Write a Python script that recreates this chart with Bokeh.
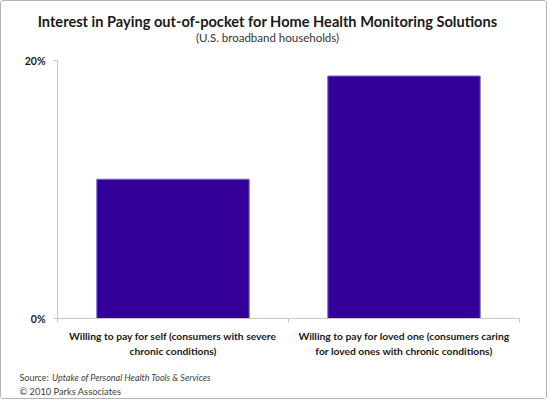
from bokeh.plotting import figure
from bokeh.models import FixedTicker, Label, PrintfTickFormatter, Range1d
from bokeh.embed import file_html
from bokeh.resources import INLINE

# Data
categories = [
    "Willing to pay for self (consumers with severe\nchronic conditions)",
    "Willing to pay for loved one (consumers caring\nfor loved ones with chronic conditions)",
]
share_pct = [10.8, 18.8]
y_ticks = [0, 20]

BAR = "#330099"
FONT = "Lato"
TEXT = "#1a1a1a"
NOTE = "#404040"
AXIS = "#c8c8c8"

# canvas size and where the plotting area sits inside it (pixels)
W, H = 547, 399
LEFT, RIGHT, TOP, BOTTOM = 56, 518, 59, 317
Y_MAX = 20
N = len(categories)

px_x = (RIGHT - LEFT) / N        # pixels per category
px_y = (BOTTOM - TOP) / Y_MAX    # pixels per percent

# the frame covers the whole canvas so the notes around the chart are not clipped
p = figure(
    width=W,
    height=H,
    x_range=Range1d(-LEFT / px_x, (W - LEFT) / px_x),
    y_range=Range1d(-(H - BOTTOM) / px_y, Y_MAX + TOP / px_y),
    output_backend="svg",
    toolbar_location=None,
    min_border=0,
)
p.styles = {"border": "1px solid #b4b4b4", "border-radius": "3px"}
p.outline_line_color = None
p.xgrid.grid_line_color = None
p.ygrid.grid_line_color = None

x_pos = [i + 0.5 for i in range(N)]
edges = [i for i in range(N + 1)]

p.vbar(x=x_pos, top=share_pct, width=0.66, fill_color=BAR,
       line_color="#7f6fd0", line_width=1)

# y axis: only 0% and 20%
p.yaxis.fixed_location = 0
p.yaxis.bounds = (0, Y_MAX)
p.yaxis.ticker = FixedTicker(ticks=y_ticks, minor_ticks=[])
p.yaxis.formatter = PrintfTickFormatter(format="%d%%")
p.yaxis.axis_line_color = AXIS
p.yaxis.major_tick_line_color = AXIS
p.yaxis.major_tick_in = 0
p.yaxis.major_tick_out = 4
p.yaxis.major_label_standoff = 8
p.yaxis.major_label_text_font = FONT
p.yaxis.major_label_text_font_style = "bold"
p.yaxis.major_label_text_font_size = "10.5px"
p.yaxis.major_label_text_color = TEXT

# x axis: labels at the category centres, ticks at the boundaries
p.xaxis.fixed_location = 0
p.xaxis.bounds = (0, N)
p.xaxis.ticker = FixedTicker(ticks=x_pos, minor_ticks=edges)
p.xaxis.major_label_overrides = {x: c for x, c in zip(x_pos, categories)}
p.xaxis.axis_line_color = AXIS
p.xaxis.major_tick_line_color = None
p.xaxis.major_tick_in = 0
p.xaxis.major_tick_out = 0
p.xaxis.minor_tick_line_color = AXIS
p.xaxis.minor_tick_in = 0
p.xaxis.minor_tick_out = 4
p.xaxis.major_label_standoff = 7
p.xaxis.major_label_text_font = FONT
p.xaxis.major_label_text_font_style = "bold"
p.xaxis.major_label_text_font_size = "10.3px"
p.xaxis.major_label_text_color = TEXT
p.xaxis.major_label_text_line_height = 1.25


def dx(px):
    return (px - LEFT) / px_x


def dy(px):
    return (BOTTOM - px) / px_y


def note(x, y, text, size, color=TEXT, style="normal", align="left"):
    p.add_layout(Label(x=dx(x), y=dy(y), text=text, text_align=align,
                       text_baseline="alphabetic", text_font=FONT,
                       text_font_style=style, text_font_size=size,
                       text_color=color))


note(266, 19.5, "Interest in Paying out-of-pocket for Home Health Monitoring Solutions",
     "14.6px", style="bold", align="center")
note(266, 36, "(U.S. broadband households)", "11.5px", color="#333333", align="center")
note(18, 376, "Source:", "9px", color=NOTE)
note(50.5, 376, "Uptake of Personal Health Tools & Services", "9px",
     color=NOTE, style="italic")
note(18, 390, "\u00a9 2010 Parks Associates", "9.3px", color=NOTE)

open("out.html", "w").write(file_html(p, INLINE))
